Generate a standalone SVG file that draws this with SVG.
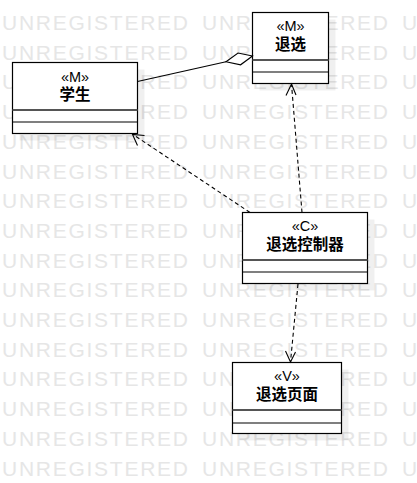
<svg xmlns="http://www.w3.org/2000/svg" xmlns:xlink="http://www.w3.org/1999/xlink" width="417" height="483" viewBox="0 0 417 483">
<style>
.wm{font-family:"Liberation Sans",Arial,sans-serif;font-size:21px;fill:#e6e6e6}
.box{fill:#ffffff;stroke:#000000;stroke-width:1.2}
.shadow{fill:#000000;fill-opacity:0.06}
.div1{stroke:#555555;stroke-width:2}
.div2{stroke:#000000;stroke-width:1.1}
.st{font-family:"Liberation Sans","Noto Sans CJK SC",sans-serif;font-size:14.5px;fill:#000;text-anchor:middle}
.nm{font-family:"Noto Sans CJK SC","Liberation Sans",sans-serif;font-size:15.5px;font-weight:bold;fill:#000;text-anchor:middle}
.ln{fill:none;stroke:#000;stroke-width:1.1}
.dash{fill:none;stroke:#000;stroke-width:1.1;stroke-dasharray:4 3}
.head{fill:none;stroke:#000;stroke-width:1.1}
</style>
<defs>
<g id="wmrow">
<text class="wm" x="2" y="0" textLength="186" lengthAdjust="spacing">UNREGISTERED</text>
<text class="wm" x="202" y="0" textLength="186" lengthAdjust="spacing">UNREGISTERED</text>
<text class="wm" x="402" y="0" textLength="186" lengthAdjust="spacing">UNREGISTERED</text>
</g>
</defs>
<rect x="0" y="0" width="417" height="483" fill="#ffffff"/>
<g id="watermark">
<use xlink:href="#wmrow" y="30"/>
<use xlink:href="#wmrow" y="59.7"/>
<use xlink:href="#wmrow" y="89.4"/>
<use xlink:href="#wmrow" y="119.1"/>
<use xlink:href="#wmrow" y="148.8"/>
<use xlink:href="#wmrow" y="178.5"/>
<use xlink:href="#wmrow" y="208.2"/>
<use xlink:href="#wmrow" y="237.9"/>
<use xlink:href="#wmrow" y="267.6"/>
<use xlink:href="#wmrow" y="297.3"/>
<use xlink:href="#wmrow" y="327"/>
<use xlink:href="#wmrow" y="356.7"/>
<use xlink:href="#wmrow" y="386.4"/>
<use xlink:href="#wmrow" y="416.1"/>
<use xlink:href="#wmrow" y="445.8"/>
<use xlink:href="#wmrow" y="475.5"/>
</g>
<g id="node-student">
<rect class="shadow" x="19.5" y="69.5" width="125" height="71"/>
<rect class="box" x="12.5" y="62.5" width="125" height="71"/>
<line class="div1" x1="12.5" y1="110" x2="137.5" y2="110"/>
<line class="div2" x1="12.5" y1="122" x2="137.5" y2="122"/>
<text class="st" x="75" y="81.5">«M»</text>
<text class="nm" x="75" y="99.5">学生</text>
</g>
<g id="node-drop">
<rect class="shadow" x="259.5" y="19.5" width="76" height="71"/>
<rect class="box" x="252.5" y="12.5" width="76" height="71"/>
<line class="div1" x1="252.5" y1="60" x2="328.5" y2="60"/>
<line class="div2" x1="252.5" y1="72" x2="328.5" y2="72"/>
<text class="st" x="290.5" y="31">«M»</text>
<text class="nm" x="290.5" y="49.5">退选</text>
</g>
<g id="node-controller">
<rect class="shadow" x="249.5" y="219.5" width="125" height="71"/>
<rect class="box" x="242.5" y="212.5" width="125" height="71"/>
<line class="div1" x1="242.5" y1="260" x2="367.5" y2="260"/>
<line class="div2" x1="242.5" y1="272" x2="367.5" y2="272"/>
<text class="st" x="305" y="231">«C»</text>
<text class="nm" x="305" y="250">退选控制器</text>
</g>
<g id="node-page">
<rect class="shadow" x="239.5" y="369.5" width="109" height="71"/>
<rect class="box" x="232.5" y="362.5" width="109" height="71"/>
<line class="div1" x1="232.5" y1="410" x2="341.5" y2="410"/>
<line class="div2" x1="232.5" y1="423" x2="341.5" y2="423"/>
<text class="st" x="287" y="381">«V»</text>
<text class="nm" x="287" y="400">退选页面</text>
</g>
<g id="connectors">
<line class="ln" x1="137.5" y1="81.5" x2="226" y2="61.7"/>
<polygon points="252.5,56 238,53 226,61.7 240.6,64.8" fill="#ffffff" stroke="#000" stroke-width="1.1"/>
<line class="dash" x1="250" y1="212.5" x2="133" y2="134.5"/>
<polyline class="head" points="137.5,145.5 132.5,134.5 144.5,135.5"/>
<line class="dash" x1="302" y1="212.5" x2="291.5" y2="84"/>
<polyline class="head" points="286,95.5 291.5,84 296,95"/>
<line class="dash" x1="298" y1="284" x2="290.5" y2="362"/>
<polyline class="head" points="285.5,351 290.5,362 295.5,352"/>
</g>
</svg>
